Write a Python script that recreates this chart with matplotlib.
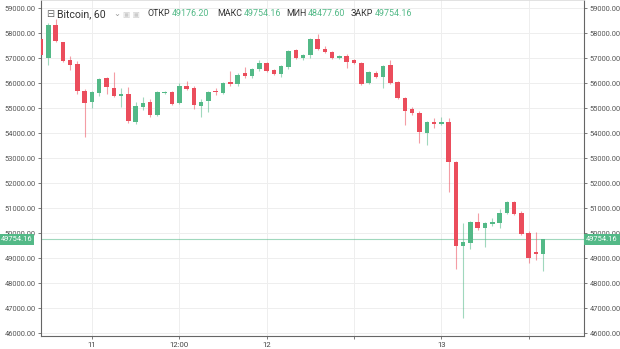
# Hourly Bitcoin candles with last-price marker

import matplotlib.pyplot as plt
import matplotlib.transforms as mtransforms
import numpy as np

plt.rcParams["font.family"] = ["Roboto", "DejaVu Sans"]

# hours counted from 00:00 of day 11
hours = np.arange(-7, 63)

opens = [57760, 57000, 58320, 57640, 56920, 56760, 55680, 55240, 55600, 56200,
         55800, 55480, 55560, 54440, 55040, 55240, 54720, 55600, 55640, 55200,
         55880, 55800, 55080, 55280, 55680, 55600, 56040, 55960, 56400, 56280,
         56560, 56800, 56520, 56360, 56640, 57320, 57000, 57120, 57760, 57360,
         57240, 57000, 57080, 56920, 56800, 56000, 56400, 56240, 56720, 56040,
         55400, 54960, 54800, 54000, 54440, 54360, 54440, 52840, 49480, 49600,
         50440, 50200, 50360, 50400, 50800, 51240, 50800, 50000, 49240, 49176.20]
highs = [57840, 58400, 58560, 57640, 57080, 56880, 55760, 55680, 56200, 56240,
         56440, 55800, 55840, 55240, 55440, 55360, 55680, 55680, 55680, 56000,
         56080, 55880, 55360, 55680, 55800, 56040, 56480, 56400, 56640, 56600,
         56920, 56840, 56560, 56720, 57320, 57360, 57160, 57800, 57960, 57480,
         57280, 57120, 57160, 56960, 56840, 56480, 56480, 56720, 56920, 56080,
         55440, 55040, 54880, 54480, 54600, 54640, 54600, 52880, 50400, 50480,
         50800, 50440, 50600, 50960, 51280, 51280, 50880, 50080, 50040, 49754.16]
lows = [57040, 56720, 57640, 56840, 56520, 55560, 53840, 55000, 55480, 55560,
        55440, 55040, 54400, 54360, 54920, 54640, 54680, 55560, 55120, 55160,
        55720, 54960, 54640, 54840, 55520, 55560, 55880, 55880, 56200, 56200,
        56480, 56440, 56320, 56240, 56560, 56960, 56920, 57000, 57320, 57200,
        56960, 56960, 56600, 56760, 55920, 55960, 56200, 55800, 55960, 55360,
        54320, 54720, 53600, 53520, 54200, 54320, 51640, 48560, 46600, 49360,
        50120, 49440, 50280, 50200, 50760, 50720, 49920, 48800, 48920, 48477.60]
closes = [57120, 58320, 57680, 56880, 56720, 55680, 55200, 55640, 56160, 55840,
          55480, 55560, 54480, 55080, 55200, 54720, 55640, 55640, 55160, 55880,
          55760, 55120, 55240, 55640, 55640, 56000, 55960, 56320, 56280, 56560,
          56800, 56480, 56360, 56680, 57280, 57000, 57120, 57760, 57360, 57240,
          57000, 57080, 56840, 56800, 55960, 56440, 56240, 56680, 56000, 55400,
          54880, 54800, 54040, 54440, 54360, 54440, 52840, 49480, 49640, 50440,
          50200, 50400, 50440, 50800, 51240, 50760, 49960, 49000, 49160, 49754.16]

y_ticks = np.arange(46000, 59001, 1000)
x_ticks = [0, 12, 24, 36, 48, 60]
x_labels = ["11", "12:00", "12", "", "13", ""]

up_color = "#53b987"
down_color = "#eb4d5c"

opens = np.array(opens)
closes = np.array(closes)
highs = np.array(highs)
lows = np.array(lows)
colors = np.where(closes >= opens, up_color, down_color)

fig = plt.figure(figsize=(6.2, 3.49), dpi=100)
ax = fig.add_axes([41 / 620, 13 / 349, 543 / 620, 336 / 349])

# wicks then bodies
ax.vlines(hours, lows, highs, colors=colors, linewidth=0.8, alpha=0.55, zorder=2)
body = np.abs(closes - opens)
body = np.maximum(body, 35)
bottom = np.minimum(opens, closes)
ax.bar(hours, body, bottom=bottom, width=0.62, color=colors, linewidth=0, zorder=3)

last = closes[-1]
ax.axhline(last, color=up_color, linewidth=0.8, alpha=0.55, zorder=1)

ax.set_xlim(-7.0, 67.6)
ax.set_ylim(45880, 59320)
ax.set_yticks(y_ticks)
ax.set_yticklabels([f"{v:.2f}" for v in y_ticks])
ax.set_xticks(x_ticks)
ax.set_xticklabels(x_labels)
ax.grid(True, color="#eeeeee", linewidth=0.7, zorder=0)
ax.set_axisbelow(True)

ax.tick_params(axis="y", which="both", left=True, right=True, labelleft=True,
               labelright=True, length=2.5, width=0.6, color="#666666",
               labelsize=5.4, labelcolor="#555555", pad=1.5)
ax.tick_params(axis="x", length=2.5, width=0.6, color="#666666",
               labelsize=5.6, labelcolor="#444444", pad=2)

for side in ["left", "right", "bottom"]:
    ax.spines[side].set_color("#666666")
    ax.spines[side].set_linewidth(0.8)
ax.spines["top"].set_color("#dddddd")
ax.spines["top"].set_linewidth(0.6)

# last price tags on both scales
trans = mtransforms.blended_transform_factory(fig.transFigure, ax.transData)
for xpos, ha in [(0.5 / 620, "left"), (586 / 620, "left")]:
    ax.text(xpos, last, f"{last:.2f}", transform=trans, ha=ha, va="center",
            fontsize=5.4, color="white", clip_on=False, zorder=5,
            bbox=dict(boxstyle="square,pad=0.25", fc=up_color, ec="none"))

# header line
hy = 1 - 14 / 349
fig.text(46 / 620, hy, "⊟", fontsize=7, color="#666666", va="center",
         family=["DejaVu Sans"])
fig.text(57 / 620, hy, "Bitcoin, 60", fontsize=7.6, color="#333333", va="center")
fig.text(113 / 620, hy, "⌄", fontsize=6, color="#999999", va="center",
         family=["DejaVu Sans"])
fig.text(123 / 620, hy, "▣ ▣", fontsize=5.5, color="#cccccc", va="center",
         family=["DejaVu Sans"])

ohlc_labels = ["ОТКР", "МАКС", "МИН", "ЗАКР"]
ohlc_values = [opens[-1], highs[-1], lows[-1], closes[-1]]
label_x = [148, 217, 286, 351]
for lab, val, lx in zip(ohlc_labels, ohlc_values, label_x):
    t = fig.text(lx / 620, hy, lab, fontsize=6.4, color="#333333", va="center")
    fig.canvas.draw()
    bb = t.get_window_extent()
    fig.text((bb.x1 + 1.5) / 620, hy, f"{val:.2f}", fontsize=6.4,
             color=up_color, va="center")

fig.savefig("out.png", dpi=100)
